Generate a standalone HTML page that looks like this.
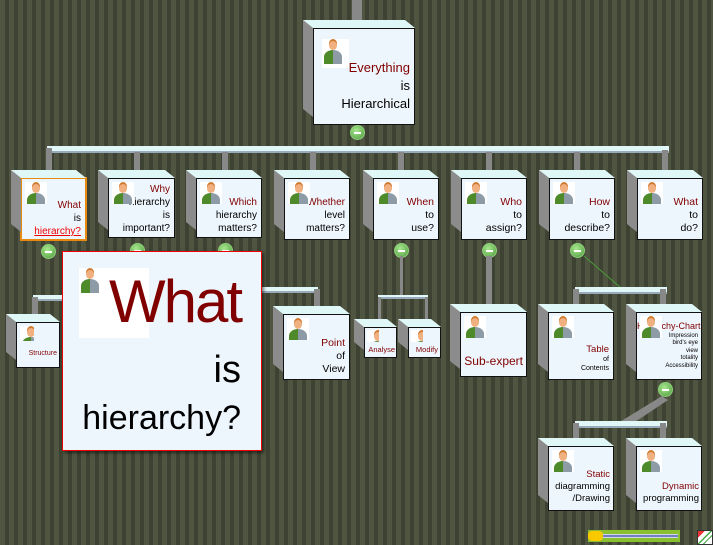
<!DOCTYPE html>
<html><head><meta charset="utf-8"><style>
*{margin:0;padding:0;box-sizing:border-box}
body{width:713px;height:545px;overflow:hidden;position:relative;font-family:"Liberation Sans",sans-serif;
background:repeating-linear-gradient(90deg,#4f5541 0 5px,#3d4232 5px 9px);}
.a{position:absolute}
.n{position:absolute;background:#eef6fd;border:1.5px solid #111;text-align:right;font-size:10.5px;line-height:13px;padding:4px 4px 0 0;color:#000;white-space:nowrap}
.n::before{content:"";position:absolute;left:-11px;top:-9px;width:10px;height:calc(100% + 2px);background:#8c8c8c;clip-path:polygon(0 0,100% 8px,100% 100%,0 calc(100% - 8px))}
.n::after{content:"";position:absolute;left:-11px;top:-9px;width:calc(100% + 12px);height:8px;background:#dff7f7;clip-path:polygon(0 0,calc(100% - 10px) 0,100% 100%,10px 100%)}
.r{color:#800000}
.av{position:absolute;left:3px;top:3px;width:22px;height:22px;background:#fff;overflow:hidden}
.av::before{content:"";position:absolute;left:7px;top:2px;width:8px;height:9px;border-radius:50%;background:#f0b080;box-shadow:0 -2px 0 #d07a30}
.av::after{content:"";position:absolute;left:2px;top:11px;width:18px;height:14px;border-radius:50% 50% 0 0;background:linear-gradient(90deg,#4e8a2a 50%,#8c9ba5 50%)}
.b{position:absolute;width:15px;height:15px;border-radius:50%;background:radial-gradient(circle at 40% 35%,#a8e890,#4f9a3c);border:1px solid #8fd07a}
.b::after{content:"";position:absolute;left:3px;top:6px;width:7px;height:2px;background:#fff}
.bar{position:absolute;background:#dff7f7;border-bottom:2px solid #9ab}
.st{position:absolute;background:#888}
</style></head><body>
<div class="st" style="left:352px;top:0;width:10px;height:26px"></div>
<div class="bar" style="left:47px;top:146px;width:622px;height:7px"></div>
<div class="st" style="left:46px;top:148px;width:6px;height:26px"></div>
<div class="st" style="left:134px;top:152px;width:6px;height:22px"></div>
<div class="st" style="left:222px;top:152px;width:6px;height:22px"></div>
<div class="st" style="left:310px;top:152px;width:6px;height:22px"></div>
<div class="st" style="left:398px;top:152px;width:6px;height:22px"></div>
<div class="st" style="left:486px;top:152px;width:6px;height:22px"></div>
<div class="st" style="left:574px;top:152px;width:6px;height:22px"></div>
<div class="st" style="left:662px;top:150px;width:6px;height:24px"></div>

<div class="n" style="left:313px;top:28px;width:102px;height:97px;font-size:13px;line-height:18px;padding-top:30px"><div class="av" style="left:8px;top:10px;width:27px;height:29px"></div><span class="r">Everything</span><br>is<br>Hierarchical</div>
<div class="b" style="left:350px;top:125px"></div>

<div class="n" style="left:20px;top:177px;width:67px;height:64px;padding-top:20px;border:2px solid #e88a10;font-size:10px"><div class="av"></div><span class="r">What</span><br>is<br><span style="color:#e00;text-decoration:underline">hierarchy?</span></div>
<div class="n" style="left:108px;top:178px;width:67px;height:60px;font-size:10px"><div class="av"></div><span class="r">Why</span><br>hierarchy<br>is<br>important?</div>
<div class="n" style="left:196px;top:178px;width:66px;height:60px;padding-top:17px;font-size:10px"><div class="av"></div><span class="r">Which</span><br>hierarchy<br>matters?</div>
<div class="n" style="left:284px;top:178px;width:66px;height:62px;padding-top:17px;font-size:10px"><div class="av"></div><span class="r">Whether</span><br>level<br>matters?</div>
<div class="n" style="left:373px;top:178px;width:66px;height:62px;padding-top:17px"><div class="av"></div><span class="r">When</span><br>to<br>use?</div>
<div class="n" style="left:461px;top:178px;width:66px;height:62px;padding-top:17px"><div class="av"></div><span class="r">Who</span><br>to<br>assign?</div>
<div class="n" style="left:549px;top:178px;width:66px;height:62px;padding-top:17px"><div class="av"></div><span class="r">How</span><br>to<br>describe?</div>
<div class="n" style="left:637px;top:178px;width:66px;height:62px;padding-top:17px"><div class="av"></div><span class="r">What</span><br>to<br>do?</div>

<div class="b" style="left:41px;top:244px"></div>
<div class="b" style="left:130px;top:243px"></div>
<div class="b" style="left:218px;top:243px"></div>
<div class="b" style="left:394px;top:243px"></div>
<div class="b" style="left:482px;top:243px"></div>
<div class="b" style="left:570px;top:243px"></div>
<svg class="a" style="left:0;top:0" width="713" height="545"><line x1="584" y1="256" x2="628" y2="294" stroke="#4a9a3a" stroke-width="1"/><polygon points="662,396 668,400 626,428 618,423" fill="#888"/></svg>

<div class="bar" style="left:33px;top:295px;width:40px;height:6px"></div>
<div class="st" style="left:32px;top:297px;width:6px;height:24px"></div>
<div class="bar" style="left:262px;top:287px;width:56px;height:6px"></div>
<div class="st" style="left:314px;top:289px;width:6px;height:25px"></div>
<div class="st" style="left:400px;top:256px;width:3px;height:40px"></div>
<div class="bar" style="left:378px;top:295px;width:50px;height:4px"></div>
<div class="st" style="left:378px;top:297px;width:3px;height:30px"></div>
<div class="st" style="left:425px;top:297px;width:3px;height:30px"></div>
<div class="st" style="left:486px;top:256px;width:6px;height:56px"></div>
<div class="bar" style="left:575px;top:287px;width:92px;height:7px"></div>
<div class="st" style="left:573px;top:289px;width:6px;height:24px"></div>
<div class="st" style="left:660px;top:289px;width:6px;height:24px"></div>

<div class="n" style="left:16px;top:322px;width:44px;height:46px;font-size:7px;line-height:9px;padding-top:26px;padding-right:2px"><div class="av" style="width:14px;height:15px"></div><span class="r">Structure</span></div>
<div class="n" style="left:283px;top:314px;width:67px;height:66px;padding-top:22px"><div class="av"></div><span class="r">Point</span><br>of<br>View</div>
<div class="n" style="left:364px;top:327px;width:33px;height:31px;font-size:7.5px;padding-top:15px;padding-right:1px"><div class="av" style="width:12px;height:12px;left:2px;top:2px"></div><span class="r">Analyse</span></div>
<div class="n" style="left:408px;top:327px;width:33px;height:31px;font-size:7.5px;padding-top:15px;padding-right:2px"><div class="av" style="width:12px;height:12px;left:2px;top:2px"></div><span class="r">Modify</span></div>
<div class="n" style="left:460px;top:312px;width:67px;height:65px;font-size:12px;padding-top:42px;padding-right:3px"><div class="av"></div><span class="r">Sub-expert</span></div>
<div class="n" style="left:548px;top:312px;width:66px;height:68px;font-size:7px;line-height:9px;padding-top:32px"><div class="av"></div><span class="r" style="font-size:9.5px">Table</span><br>of<br>Contents</div>
<div class="n" style="left:636px;top:312px;width:66px;height:68px;font-size:6px;line-height:7.5px;padding-top:8px;padding-right:3px"><div class="av"></div><span class="r" style="font-size:9px;line-height:11px">Hierarchy-Chart</span><br>Impression<br>bird's eye<br>view<br>totality<br>Accessibility</div>
<div class="b" style="left:658px;top:382px"></div>

<div class="bar" style="left:575px;top:421px;width:92px;height:7px"></div>
<div class="st" style="left:573px;top:423px;width:6px;height:24px"></div>
<div class="st" style="left:660px;top:423px;width:6px;height:24px"></div>
<div class="n" style="left:548px;top:446px;width:66px;height:65px;font-size:9.5px;line-height:12px;padding-top:22px;padding-right:3px"><div class="av"></div><span class="r">Static</span><br>diagramming<br>/Drawing</div>
<div class="n" style="left:636px;top:446px;width:66px;height:65px;font-size:9.5px;line-height:12px;padding-top:34px;padding-right:2px"><div class="av"></div><span class="r">Dynamic</span><br>programming</div>

<div class="a" style="left:62px;top:251px;width:200px;height:200px;background:#eef6fd;border:1.5px solid #e00;box-shadow:2px 2px 3px rgba(0,0,0,.5);text-align:right;padding-right:20px">
<div class="av" style="left:16px;top:16px;width:70px;height:70px"></div>
<div style="position:relative;font-size:60px;line-height:64px;color:#800000;margin-top:18px;letter-spacing:-2px">What</div>
<div style="font-size:38px;line-height:40px;margin-top:16px">is</div>
<div style="font-size:34px;line-height:40px;margin-top:8px">hierarchy?</div>
</div>

<div class="a" style="left:588px;top:530px;width:92px;height:12px;background:#8ac030"></div>
<div class="a" style="left:590px;top:534px;width:88px;height:4px;background:linear-gradient(#fff,#4455aa,#fff)"></div>
<div class="a" style="left:588px;top:531px;width:15px;height:10px;border-radius:4px;background:#f8c800"></div>
<div class="a" style="left:697px;top:530px;width:16px;height:15px;border:1px solid #333;background:linear-gradient(135deg,#e33 0 25%,#fff 25% 45%,#4a4 45% 52%,#fff 52% 65%,#4a4 65% 72%,#fff 72%)"></div>
</body></html>
